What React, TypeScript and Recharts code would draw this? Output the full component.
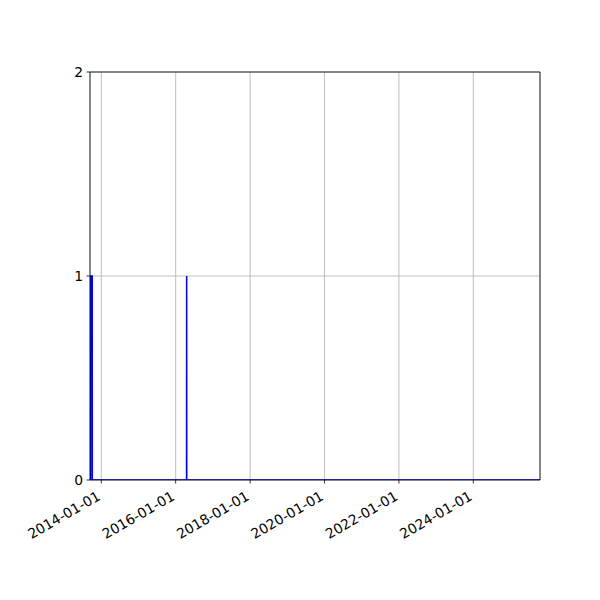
import { CartesianGrid, Line, LineChart, ReferenceLine, XAxis, YAxis } from 'recharts';

const dates = [
  '2013-09-12',
  '2013-09-19',
  '2013-09-20',
  '2013-10-04',
  '2013-10-05',
  '2016-04-17',
  '2016-04-18',
  '2016-04-19',
  '2025-10-17',
];
const counts = [0, 0, 1, 1, 0, 0, 1, 0, 0];

const xTickLabels = ['2014-01-01', '2016-01-01', '2018-01-01', '2020-01-01', '2022-01-01', '2024-01-01'];
const yTicks = [0, 1, 2];

const toMs = (d: string) => Date.parse(d + 'T00:00:00Z');

const data = dates.map((d, i) => ({ t: toMs(d), count: counts[i] }));
const xTicks = xTickLabels.map(toMs);
const xStart = toMs(dates[0]);
const xEnd = toMs(dates[dates.length - 1]);

const FONT = '"DejaVu Sans", sans-serif';

function DateTick({ x, y, payload }: any) {
  const label = new Date(payload.value).toISOString().slice(0, 10);
  const tx = x;
  const ty = y + 13.5;
  return (
    <text
      x={tx}
      y={ty}
      transform={`rotate(-30, ${tx}, ${ty})`}
      textAnchor="end"
      fontFamily={FONT}
      fontSize={13.9}
      fill="#000"
    >
      {label}
    </text>
  );
}

export default function App() {
  return (
    <div style={{ position: 'absolute', left: 0, top: 0, width: 600, height: 600, background: '#fff' }}>
      <LineChart width={600} height={600} data={data} margin={{ top: 72, right: 60, bottom: 0, left: 0 }}>
        <CartesianGrid stroke="#b0b0b0" strokeWidth={0.8} />
        <XAxis
          dataKey="t"
          type="number"
          domain={[xStart, xEnd]}
          ticks={xTicks}
          interval={0}
          height={120}
          tickSize={3.5}
          tickLine={{ stroke: '#000', strokeWidth: 0.8 }}
          axisLine={{ stroke: '#000', strokeWidth: 0.8 }}
          tick={<DateTick />}
          allowDataOverflow
        />
        <YAxis
          type="number"
          domain={[0, 2]}
          ticks={yTicks}
          interval={0}
          width={90}
          tickSize={3.5}
          tickMargin={3.5}
          tickLine={{ stroke: '#000', strokeWidth: 0.8 }}
          axisLine={{ stroke: '#000', strokeWidth: 0.8 }}
          tick={{ fill: '#000', fontFamily: FONT, fontSize: 13.9 }}
          allowDataOverflow
        />
        <Line
          type="linear"
          dataKey="count"
          stroke="#0000ff"
          strokeWidth={1.5}
          dot={false}
          isAnimationActive={false}
        />
        <ReferenceLine y={2} stroke="#000" strokeWidth={0.8} />
        <ReferenceLine x={xEnd} stroke="#000" strokeWidth={0.8} />
      </LineChart>
    </div>
  );
}
